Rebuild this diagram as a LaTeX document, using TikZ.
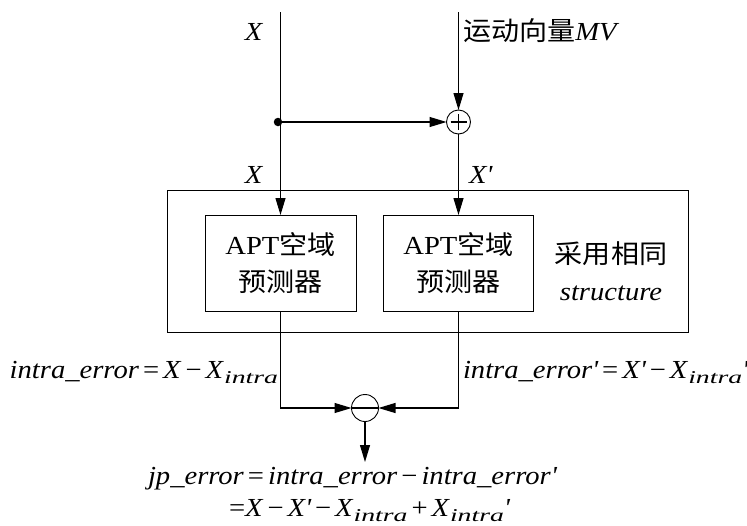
\documentclass[tikz,border=0pt]{standalone}
\usepackage{fontspec}
\setmainfont{Liberation Serif}[FakeStretch=1.1]
\newfontfamily\cjk{Noto Sans CJK SC}[FakeStretch=1.08]
\usetikzlibrary{arrows.meta}

% helpers for the equations: italic subscript, straight prime, tight operators
\newcommand\lowsub[1]{\raisebox{-0.45ex}{\scalebox{1.4}[1]{\fontsize{18}{18}\selectfont\itshape #1}}}
\newcommand\pr{\textquotesingle}
\newcommand\mi[1]{\textit{#1}}
\newcommand\op[1]{\hspace{4pt}#1\hspace{4pt}}

\begin{document}
\begin{tikzpicture}[x=1pt,y=-1pt,
  every node/.style={inner sep=0pt, outer sep=0pt},
  txt/.style={font=\fontsize{26}{37}\selectfont},
  wire/.style={line width=1.1pt},
  sig/.style={wire, -{Triangle[length=17pt,width=10pt]}},
  blk/.style={draw, line width=0.9pt, align=center, txt},
  junction/.style={circle, draw, line width=0.9pt, minimum size=24pt}]
\useasboundingbox (0,0) rectangle (747,525);

% enclosing frame and the two predictors
\node[draw, line width=0.9pt, minimum width=521pt, minimum height=142pt] (frame) at (427.5,261) {};
\node[blk, minimum width=151pt, minimum height=96pt] (lbox) at (280.5,263)
  {APT{\cjk 空域}\\{\cjk 预测器}};
\node[blk, minimum width=150pt, minimum height=96pt] (rbox) at (458.5,263)
  {APT{\cjk 空域}\\{\cjk 预测器}};
\node[txt, align=center] (same) at (611,271) {{\cjk 采用相同}\\\mi{structure}};

% summing and difference junctions
\node[junction] (add) at (458.5,122) {};
\draw[wire] ([xshift=-8pt]add.center) -- ([xshift=8pt]add.center)
            ([yshift=-8pt]add.center) -- ([yshift=8pt]add.center);
\node[junction, minimum size=27pt] (sub) at (365,408) {};
\draw[line width=1.8pt] (sub.west) -- (sub.east);

\node[circle, fill, minimum size=8.5pt] (tap) at (278,122) {};

% signal paths
\coordinate (inL) at (280.5,12);
\coordinate (inR) at (458.5,12);
\coordinate (out) at (365,462);
\draw[sig] (inL) -- (lbox.north);
\draw[sig] (inR) -- (add.north);
\draw[sig] (tap.center) -- (add.west);
\draw[sig] (add.south) -- (rbox.north);
\draw[sig] (lbox.south) |- (sub.west);
\draw[sig] (rbox.south) |- (sub.east);
\draw[sig] (sub.south) -- (out);

% labels
\node[txt, anchor=base] (xin) at (254,40) {\mi{X}};
\node[txt, anchor=base west] (mv) at (463,40) {{\cjk 运动向量}\mi{MV}};
\node[txt, anchor=base] (xl) at (254,183) {\mi{X}};
\node[txt, anchor=base west] (xr) at (469,183) {\mi{X\pr}};
\node[txt, anchor=base east] (el) at (278,378)
  {\mi{intra\_error}\op{=}\mi{X}\op{−}\mi{X}\lowsub{intra}};
\node[txt, anchor=base west] (er) at (463,378)
  {\mi{intra\_error\pr}\op{=}\mi{X\pr}\op{−}\mi{X}\lowsub{intra}\mi{\pr}};
\node[txt, anchor=base west] (jp) at (148,484)
  {\mi{jp\_error}\op{=}\mi{intra\_error}\op{−}\mi{intra\_error\pr}};
\node[txt, anchor=base west] (jp2) at (229,516)
  {=\mi{X}\op{−}\mi{X\pr}\op{−}\mi{X}\lowsub{intra}\op{+}\mi{X}\lowsub{intra}\mi{\pr}};
\end{tikzpicture}
\end{document}
